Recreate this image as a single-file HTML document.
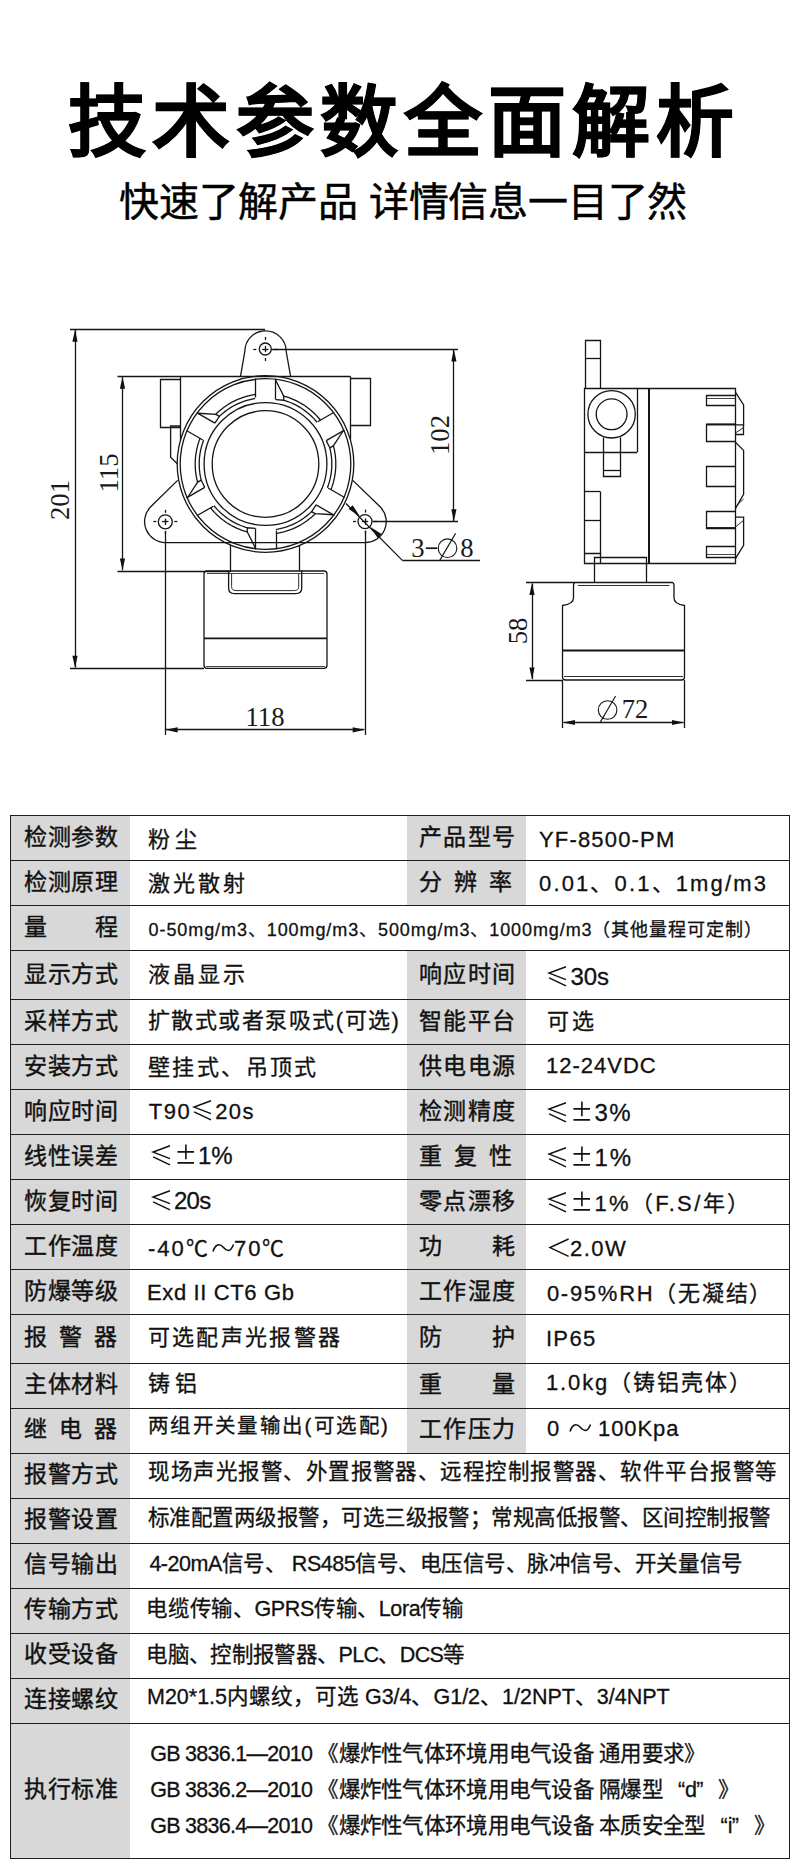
<!DOCTYPE html>
<html lang="zh-CN"><head><meta charset="utf-8"><style>
html,body{margin:0;padding:0;background:#fff;}
body{width:800px;height:1861px;position:relative;overflow:hidden;font-family:"Liberation Sans",sans-serif;color:#111;}
.a{position:absolute;white-space:nowrap;line-height:1;}
.t{font-size:78px;font-weight:700;-webkit-text-stroke:0.7px #000;color:#000;letter-spacing:6.0px;}
.s{font-size:40px;-webkit-text-stroke:0.45px #000;color:#000;letter-spacing:-0.2px;}
.g{position:absolute;background:#d8d8d8;}
.hl{position:absolute;height:1px;background:#1e1e1e;left:10px;width:780px;}
.vl{position:absolute;width:1px;background:#1e1e1e;}
.c{position:absolute;display:flex;align-items:center;white-space:nowrap;line-height:1;-webkit-text-stroke:0.3px #111;}
.lab{justify-content:space-between;-webkit-text-stroke:0.4px #111;}
.lab span{display:block}
.ql{display:inline-block;width:1.03em;text-align:right;letter-spacing:0}
.qr{display:inline-block;width:1.03em;text-align:left;letter-spacing:0}
.dn{position:absolute;font-family:"Liberation Serif",serif;font-size:27.5px;line-height:1;color:#1a1a1a;white-space:nowrap;}
</style></head><body>

<div class="a t" style="left:68px;top:84px">技术参数全面解析</div>
<div class="a s" style="left:119px;top:182px">快速了解产品 详情信息一目了然</div>
<svg width="800" height="760" viewBox="0 0 800 760" style="position:absolute;left:0;top:0" fill="none" stroke="#151515" stroke-width="1.3" stroke-linejoin="miter">
<path d="M240.5 376.3 L244.8 351.5 A20.6 20.6 0 0 1 286.2 351.5 L290.6 376.3"/>
<circle cx="265.3" cy="349" r="6"/>
<path d="M262.1 349.5 L268.5 349.5" stroke-width="1.3"/>
<path d="M265.5 345.8 L265.5 352.2" stroke-width="1.3"/>
<path d="M274.3 349.5 L277.3 349.5"/>
<path d="M256.3 349.5 L253.3 349.5"/>
<path d="M265.5 358 L265.5 361"/>
<path d="M265.5 340 L265.5 337"/>
<path d="M117.5 376.5 L350.2 376.5"/>
<path d="M180.5 376.3 L180.5 440.5"/>
<path d="M350.5 376.3 L350.5 439.5"/>
<path d="M180.5 379.5 L160.5 379.5 L160.5 427.5 L180.5 427.5"/>
<path d="M180.6 426 L170.6 426 L170.6 457.3 L177.3 463.8"/>
<path d="M350.5 378.5 L370.5 378.5 L370.5 425.5 L350.5 425.5"/>
<path d="M177.6 480.4 L150.2 507.3 A21 21 0 0 0 165.3 542.6 L365 542.6 A21 21 0 0 0 380.6 507.3 L352.8 480.4"/>
<circle cx="165.3" cy="521.8" r="7"/>
<path d="M162.1 521.5 L168.5 521.5" stroke-width="1.3"/>
<path d="M165.5 518.6 L165.5 525" stroke-width="1.3"/>
<path d="M174.3 521.5 L177.3 521.5"/>
<path d="M156.3 521.5 L153.3 521.5"/>
<path d="M165.5 530.8 L165.5 533.8"/>
<path d="M165.5 512.8 L165.5 509.8"/>
<circle cx="365" cy="521.6" r="7"/>
<path d="M361.8 521.5 L368.2 521.5" stroke-width="1.3"/>
<path d="M365.5 518.4 L365.5 524.8" stroke-width="1.3"/>
<path d="M374 521.5 L377 521.5"/>
<path d="M356 521.5 L353 521.5"/>
<path d="M365.5 530.6 L365.5 533.6"/>
<path d="M365.5 512.6 L365.5 509.6"/>
<circle cx="265.5" cy="464" r="88.3"/>
<circle cx="265.5" cy="464" r="85.3"/>
<circle cx="265.5" cy="464" r="61.4"/>
<circle cx="265.5" cy="464" r="53.3"/>
<path d="M255.5 378.5 L255.5 397.5"/>
<path d="M275.5 378.5 L275.5 399.5"/>
<path d="M275.6 380 L283.75 396.25 L283.75 400.25 L275.6 399.7"/>
<path d="M283.16 395.96 L285.35 396.56 L287.51 397.24 L289.65 397.98 L291.77 398.79 L293.86 399.67 L295.92 400.62 L297.95 401.64 L299.94 402.71 L301.9 403.86 L303.82 405.06 L305.7 406.33 L307.54 407.65 L309.33 409.04 L311.08 410.48 L312.78 411.98 L314.44 413.53 L316.04 415.13 L317.59 416.79 L319.08 418.49 L320.52 420.24"/>
<path d="M283.1 400.08 L285.07 400.66 L287.03 401.29 L288.97 401.99 L290.89 402.75 L292.78 403.57 L294.64 404.45 L296.48 405.38 L298.28 406.37 L300.06 407.42 L301.8 408.52 L303.51 409.67 L305.18 410.88 L306.81 412.14 L308.4 413.45 L309.95 414.81 L311.45 416.21 L312.92 417.66 L314.33 419.16 L315.7 420.7 L317.03 422.28"/>
<path d="M334.12 412.26 L317.67 421.76"/>
<path d="M344.42 430.1 L326.24 440.6"/>
<path d="M343.3 430.75 L333.3 445.93 L329.83 447.93 L326.24 440.6"/>
<path d="M333.26 445.28 L333.83 447.47 L334.33 449.68 L334.75 451.91 L335.11 454.15 L335.39 456.4 L335.6 458.65 L335.73 460.92 L335.8 463.18 L335.79 465.45 L335.7 467.71 L335.55 469.98 L335.32 472.23 L335.01 474.48 L334.64 476.71 L334.19 478.94 L333.68 481.14 L333.09 483.33 L332.43 485.5 L331.7 487.65 L330.91 489.77"/>
<path d="M329.66 447.28 L330.14 449.28 L330.57 451.29 L330.93 453.32 L331.23 455.36 L331.47 457.41 L331.64 459.46 L331.75 461.52 L331.8 463.58 L331.78 465.64 L331.7 467.7 L331.55 469.75 L331.34 471.8 L331.07 473.84 L330.73 475.87 L330.33 477.9 L329.86 479.9 L329.34 481.9 L328.75 483.87 L328.1 485.83 L327.4 487.76"/>
<path d="M344.62 497.56 L328.17 488.06"/>
<path d="M334.32 515.4 L316.14 504.9"/>
<path d="M333.2 514.75 L315.05 513.68 L311.58 511.68 L316.14 504.9"/>
<path d="M315.6 513.32 L313.98 514.91 L312.31 516.45 L310.6 517.93 L308.84 519.35 L307.03 520.72 L305.18 522.03 L303.29 523.28 L301.36 524.47 L299.39 525.59 L297.38 526.65 L295.35 527.65 L293.28 528.58 L291.18 529.44 L289.06 530.23 L286.91 530.96 L284.74 531.62 L282.55 532.2 L280.34 532.71 L278.12 533.16 L275.88 533.53"/>
<path d="M312.06 511.2 L310.57 512.62 L309.04 514 L307.46 515.33 L305.85 516.61 L304.2 517.84 L302.5 519.01 L300.78 520.14 L299.02 521.2 L297.22 522.22 L295.4 523.18 L293.54 524.08 L291.66 524.92 L289.76 525.7 L287.83 526.43 L285.88 527.09 L283.91 527.69 L281.92 528.23 L279.92 528.71 L277.9 529.13 L275.87 529.48"/>
<path d="M276.5 549.5 L276.5 530.5"/>
<path d="M255.5 549.5 L255.5 528.5"/>
<path d="M255.4 548 L247.25 531.75 L247.25 527.75 L255.4 528.3"/>
<path d="M247.84 532.04 L245.65 531.44 L243.49 530.76 L241.35 530.02 L239.23 529.21 L237.14 528.33 L235.08 527.38 L233.05 526.36 L231.06 525.29 L229.1 524.14 L227.18 522.94 L225.3 521.67 L223.46 520.35 L221.67 518.96 L219.92 517.52 L218.22 516.02 L216.56 514.47 L214.96 512.87 L213.41 511.21 L211.92 509.51 L210.48 507.76"/>
<path d="M247.9 527.92 L245.93 527.34 L243.97 526.71 L242.03 526.01 L240.11 525.25 L238.22 524.43 L236.36 523.55 L234.52 522.62 L232.72 521.63 L230.94 520.58 L229.2 519.48 L227.49 518.33 L225.82 517.12 L224.19 515.86 L222.6 514.55 L221.05 513.19 L219.55 511.79 L218.08 510.34 L216.67 508.84 L215.3 507.3 L213.97 505.72"/>
<path d="M196.88 515.74 L213.33 506.24"/>
<path d="M186.58 497.9 L204.76 487.4"/>
<path d="M187.7 497.25 L197.7 482.07 L201.17 480.07 L204.76 487.4"/>
<path d="M197.74 482.72 L197.17 480.53 L196.67 478.32 L196.25 476.09 L195.89 473.85 L195.61 471.6 L195.4 469.35 L195.27 467.08 L195.2 464.82 L195.21 462.55 L195.3 460.29 L195.45 458.02 L195.68 455.77 L195.99 453.52 L196.36 451.29 L196.81 449.06 L197.32 446.86 L197.91 444.67 L198.57 442.5 L199.3 440.35 L200.09 438.23"/>
<path d="M201.34 480.72 L200.86 478.72 L200.43 476.71 L200.07 474.68 L199.77 472.64 L199.53 470.59 L199.36 468.54 L199.25 466.48 L199.2 464.42 L199.22 462.36 L199.3 460.3 L199.45 458.25 L199.66 456.2 L199.93 454.16 L200.27 452.13 L200.67 450.1 L201.14 448.1 L201.66 446.1 L202.25 444.13 L202.9 442.17 L203.6 440.24"/>
<path d="M186.38 430.44 L202.83 439.94"/>
<path d="M196.68 412.6 L214.86 423.1"/>
<path d="M197.8 413.25 L215.95 414.32 L219.42 416.32 L214.86 423.1"/>
<path d="M215.4 414.68 L217.02 413.09 L218.69 411.55 L220.4 410.07 L222.16 408.65 L223.97 407.28 L225.82 405.97 L227.71 404.72 L229.64 403.53 L231.61 402.41 L233.62 401.35 L235.65 400.35 L237.72 399.42 L239.82 398.56 L241.94 397.77 L244.09 397.04 L246.26 396.38 L248.45 395.8 L250.66 395.29 L252.88 394.84 L255.12 394.47"/>
<path d="M218.94 416.8 L220.43 415.38 L221.96 414 L223.54 412.67 L225.15 411.39 L226.8 410.16 L228.5 408.99 L230.22 407.86 L231.98 406.8 L233.78 405.78 L235.6 404.82 L237.46 403.92 L239.34 403.08 L241.24 402.3 L243.17 401.57 L245.12 400.91 L247.09 400.31 L249.08 399.77 L251.08 399.29 L253.1 398.87 L255.13 398.52"/>
<path d="M230.5 545 L230.5 571"/>
<path d="M299.5 545 L299.5 571"/>
<path d="M207 571 L324 571 Q327 571 327 574 L327 665.3 Q327 668.3 324 668.3 L207 668.3 Q204 668.3 204 665.3 L204 574 Q204 571 207 571 Z"/>
<path d="M204 638.3 L327 638.3" stroke-width="1.7"/>
<path d="M206 666.5 L325 666.5" stroke-width="0.8"/>
<path d="M228.6 571 L228.6 588 Q228.6 593.6 234.5 593.6 L295.8 593.6 Q301.7 593.6 301.7 588 L301.7 571"/>
<path d="M231.6 573.5 L231.6 586.5 Q231.6 590.6 236 590.6 L294.3 590.6 Q298.7 590.6 298.7 586.5 L298.7 573.5" stroke-width="0.9"/>
<path d="M207 573.5 L324 573.5" stroke-width="0.8"/>
<path d="M70 329.5 L265 329.5"/>
<path d="M70 668.5 L204 668.5"/>
<path d="M75.5 330 L75.5 667.6"/>
<path d="M75 329.8 L77.6 341.8 L72.4 341.8 Z" fill="#111" stroke="none"/>
<path d="M75 667.8 L72.4 655.8 L77.6 655.8 Z" fill="#111" stroke="none"/>
<path d="M117.5 571.5 L230.8 571.5"/>
<path d="M122.5 377 L122.5 570.3"/>
<path d="M122.5 376.8 L125.1 388.8 L119.9 388.8 Z" fill="#111" stroke="none"/>
<path d="M122.5 570.5 L119.9 558.5 L125.1 558.5 Z" fill="#111" stroke="none"/>
<path d="M271.5 349.5 L458 349.5"/>
<path d="M372.5 521.5 L458 521.5"/>
<path d="M453.5 350 L453.5 521"/>
<path d="M453.9 349.5 L456.5 361.5 L451.3 361.5 Z" fill="#111" stroke="none"/>
<path d="M453.9 521.2 L451.3 509.2 L456.5 509.2 Z" fill="#111" stroke="none"/>
<path d="M165.5 531 L165.5 735"/>
<path d="M365.5 531 L365.5 735"/>
<path d="M166 729.5 L364.3 729.5"/>
<path d="M165.6 729.8 L177.6 727.2 L177.6 732.4 Z" fill="#111" stroke="none"/>
<path d="M364.7 729.8 L352.7 732.4 L352.7 727.2 Z" fill="#111" stroke="none"/>
<path d="M346 503.5 L402.3 560.4"/>
<path d="M402.3 560.5 L480 560.5"/>
<path d="M359.8 516.3 L348.63 509.09 L352.59 505.13 Z" fill="#111" stroke="none"/>
<path d="M370.4 526.9 L381.57 534.11 L377.61 538.07 Z" fill="#111" stroke="none"/>
<path d="M585.5 388.5 L585.5 340.5 L600.5 340.5 L600.5 388.5"/>
<path d="M585.9 358.5 L600.2 358.5"/>
<path d="M584.5 388.5 L735.5 388.5 L735.5 563.5 L584.5 563.5 Z"/>
<path d="M637.5 388.2 L637.5 452.3"/>
<path d="M584.7 452.5 L637 452.5"/>
<path d="M649 388.2 L649 563.5" stroke-width="2.0"/>
<circle cx="611.6" cy="414.3" r="23.7"/>
<circle cx="611.6" cy="414.3" r="15.4"/>
<path d="M603.5 437.5 L603.5 476.5 L620.5 476.5 L620.5 437.5"/>
<path d="M603.3 470.5 L620.4 470.5"/>
<path d="M600.5 491.5 L600.5 553.5 L584.5 553.5"/>
<path d="M584.7 491.5 L600.2 491.5"/>
<path d="M584.7 520.5 L600.2 520.5"/>
<path d="M600.5 553.3 L600.5 563.5"/>
<path d="M735.5 395.5 L706.5 395.5 L706.5 405.5 L735.5 405.5"/>
<path d="M735.5 424.5 L706.5 424.5 L706.5 441.5 L735.5 441.5"/>
<path d="M735.5 466.5 L706.5 466.5 L706.5 486.5 L735.5 486.5"/>
<path d="M735.5 511.5 L706.5 511.5 L706.5 528.5 L735.5 528.5"/>
<path d="M735.5 546.5 L706.5 546.5 L706.5 557.5 L735.5 557.5"/>
<path d="M706.5 398.5 L735.4 398.5" stroke-width="0.8"/>
<path d="M706.5 554.5 L735.4 554.5" stroke-width="0.8"/>
<path d="M706.5 424.4 L735.4 424.4" stroke-width="1.8"/>
<path d="M706.5 528 L735.4 528" stroke-width="1.8"/>
<path d="M735.4 392.2 L743.6 405 L743.6 424.9 L735.4 424.9"/>
<path d="M743.5 424.5 L743.5 434.5 L735.5 434.5"/>
<path d="M735.4 433 L743.6 427.5" stroke-width="0.9"/>
<path d="M735.4 442.2 L743.6 450.4 L743.6 494.3 L735.4 508.6"/>
<path d="M737 505 L743.6 499" stroke-width="0.9"/>
<path d="M735.4 517.2 L743.6 517.2 L743.6 545.3 L735.4 558.6"/>
<path d="M735.4 527 L743.6 520.3" stroke-width="0.9"/>
<path d="M594.5 563.5 L594.5 557.5 L646.5 557.5 L646.5 563.5"/>
<path d="M594.5 563.5 L594.5 582.5"/>
<path d="M646.5 563.5 L646.5 582.5"/>
<path d="M575 582.5 L672.5 582.5 Q674 583 674 586 L674 598 Q674 604 684.5 605.5 L684.5 677 Q684.5 680 681.5 680 L565.5 680 Q562.5 680 562.5 677 L562.5 605.5 Q573.5 604 573.5 598 L573.5 586 Q573.5 583 575 582.5 Z"/>
<path d="M578 585.5 L669.5 585.5" stroke-width="0.9"/>
<path d="M562.5 650.5 L684.5 650.5" stroke-width="1.8"/>
<path d="M564 676.5 L683 676.5" stroke-width="0.9"/>
<path d="M526 582.5 L575 582.5"/>
<path d="M526 680.5 L562.5 680.5"/>
<path d="M532.5 583.5 L532.5 679"/>
<path d="M532 583 L534.6 595 L529.4 595 Z" fill="#111" stroke="none"/>
<path d="M532 679.5 L529.4 667.5 L534.6 667.5 Z" fill="#111" stroke="none"/>
<path d="M562.5 680 L562.5 728"/>
<path d="M684.5 680 L684.5 728"/>
<path d="M563.5 722.5 L683.5 722.5"/>
<path d="M563 722.5 L575 719.9 L575 725.1 Z" fill="#111" stroke="none"/>
<path d="M684 722.5 L672 725.1 L672 719.9 Z" fill="#111" stroke="none"/>
<circle cx="447.5" cy="548.2" r="9.3" stroke-width="1.1"/>
<path d="M439.6 560.6 L455.6 533.4" stroke-width="1.1"/>
<path d="M425.8 548.2 L437.2 548.2" stroke-width="1.7"/>
<circle cx="607.6" cy="710" r="9.3" stroke-width="1.1"/>
<path d="M600 722.6 L615.6 696" stroke-width="1.1"/>
</svg><div class="dn" style="left:265.2px;top:716.7px;transform:translate(-50%,-50%)  scaleX(0.97)">118</div>
<div class="dn" style="left:60.3px;top:500.0px;transform:translate(-50%,-50%) rotate(-90deg) scaleX(0.97)">201</div>
<div class="dn" style="left:109.4px;top:472.5px;transform:translate(-50%,-50%) rotate(-90deg) scaleX(0.97)">115</div>
<div class="dn" style="left:440.1px;top:434.8px;transform:translate(-50%,-50%) rotate(-90deg) scaleX(0.97)">102</div>
<div class="dn" style="left:517.8px;top:631.4px;transform:translate(-50%,-50%) rotate(-90deg) scaleX(0.97)">58</div>
<div class="dn" style="left:417.7px;top:548.3px;transform:translate(-50%,-50%)  scaleX(0.97)">3</div>
<div class="dn" style="left:467.0px;top:548.3px;transform:translate(-50%,-50%)  scaleX(0.97)">8</div>
<div class="dn" style="left:635.2px;top:709.0px;transform:translate(-50%,-50%)  scaleX(0.97)">72</div>
<div class="g" style="left:10px;top:815px;width:120px;height:45px"></div>
<div class="g" style="left:407px;top:815px;width:119px;height:45px"></div>
<div class="g" style="left:10px;top:860px;width:120px;height:45px"></div>
<div class="g" style="left:407px;top:860px;width:119px;height:45px"></div>
<div class="g" style="left:10px;top:905px;width:120px;height:45px"></div>
<div class="g" style="left:10px;top:950px;width:120px;height:49px"></div>
<div class="g" style="left:407px;top:950px;width:119px;height:49px"></div>
<div class="g" style="left:10px;top:999px;width:120px;height:45px"></div>
<div class="g" style="left:407px;top:999px;width:119px;height:45px"></div>
<div class="g" style="left:10px;top:1044px;width:120px;height:45px"></div>
<div class="g" style="left:407px;top:1044px;width:119px;height:45px"></div>
<div class="g" style="left:10px;top:1089px;width:120px;height:45px"></div>
<div class="g" style="left:407px;top:1089px;width:119px;height:45px"></div>
<div class="g" style="left:10px;top:1134px;width:120px;height:45px"></div>
<div class="g" style="left:407px;top:1134px;width:119px;height:45px"></div>
<div class="g" style="left:10px;top:1179px;width:120px;height:45px"></div>
<div class="g" style="left:407px;top:1179px;width:119px;height:45px"></div>
<div class="g" style="left:10px;top:1224px;width:120px;height:45px"></div>
<div class="g" style="left:407px;top:1224px;width:119px;height:45px"></div>
<div class="g" style="left:10px;top:1269px;width:120px;height:45px"></div>
<div class="g" style="left:407px;top:1269px;width:119px;height:45px"></div>
<div class="g" style="left:10px;top:1314px;width:120px;height:49px"></div>
<div class="g" style="left:407px;top:1314px;width:119px;height:49px"></div>
<div class="g" style="left:10px;top:1363px;width:120px;height:45px"></div>
<div class="g" style="left:407px;top:1363px;width:119px;height:45px"></div>
<div class="g" style="left:10px;top:1408px;width:120px;height:45px"></div>
<div class="g" style="left:407px;top:1408px;width:119px;height:45px"></div>
<div class="g" style="left:10px;top:1453px;width:120px;height:45px"></div>
<div class="g" style="left:10px;top:1498px;width:120px;height:45px"></div>
<div class="g" style="left:10px;top:1543px;width:120px;height:45px"></div>
<div class="g" style="left:10px;top:1588px;width:120px;height:45px"></div>
<div class="g" style="left:10px;top:1633px;width:120px;height:45px"></div>
<div class="g" style="left:10px;top:1678px;width:120px;height:45px"></div>
<div class="g" style="left:10px;top:1723px;width:120px;height:135px"></div>
<div class="hl" style="top:815px"></div>
<div class="hl" style="top:860px"></div>
<div class="hl" style="top:905px"></div>
<div class="hl" style="top:950px"></div>
<div class="hl" style="top:999px"></div>
<div class="hl" style="top:1044px"></div>
<div class="hl" style="top:1089px"></div>
<div class="hl" style="top:1134px"></div>
<div class="hl" style="top:1179px"></div>
<div class="hl" style="top:1224px"></div>
<div class="hl" style="top:1269px"></div>
<div class="hl" style="top:1314px"></div>
<div class="hl" style="top:1363px"></div>
<div class="hl" style="top:1408px"></div>
<div class="hl" style="top:1453px"></div>
<div class="hl" style="top:1498px"></div>
<div class="hl" style="top:1543px"></div>
<div class="hl" style="top:1588px"></div>
<div class="hl" style="top:1633px"></div>
<div class="hl" style="top:1678px"></div>
<div class="hl" style="top:1723px"></div>
<div class="hl" style="top:1858px"></div>
<div class="vl" style="left:10px;top:815px;height:1044px"></div>
<div class="vl" style="left:789px;top:815px;height:1044px"></div>
<div class="c lab" style="left:10px;top:815px;width:120px;height:45px;font-size:23px;padding:0 12px 0 14px;box-sizing:border-box;"><span>检</span><span>测</span><span>参</span><span>数</span></div>
<div class="c" style="left:147.75px;top:817.75px;height:45px;font-size:22px;letter-spacing:4.85px"><span>粉尘</span></div>
<div class="c lab" style="left:407px;top:815px;width:119px;height:45px;font-size:23px;padding:0 11px 0 12px;box-sizing:border-box;"><span>产</span><span>品</span><span>型</span><span>号</span></div>
<div class="c" style="left:539.0px;top:817.3px;height:45px;font-size:22px;letter-spacing:1.167px"><span>YF-8500-PM</span></div>
<div class="c lab" style="left:10px;top:860px;width:120px;height:45px;font-size:23px;padding:0 12px 0 14px;box-sizing:border-box;"><span>检</span><span>测</span><span>原</span><span>理</span></div>
<div class="c" style="left:147.75px;top:861.5px;height:45px;font-size:22px;letter-spacing:3.161px"><span>激光散射</span></div>
<div class="c lab" style="left:407px;top:860px;width:119px;height:45px;font-size:23px;padding:0 14.5px 0 12px;box-sizing:border-box;"><span>分</span><span>辨</span><span>率</span></div>
<div class="c" style="left:539.0px;top:861.6px;height:45px;font-size:22px;letter-spacing:2.143px"><span>0.01、0.1、1mg/m3</span></div>
<div class="c lab" style="left:10px;top:905px;width:120px;height:45px;font-size:23px;padding:0 12px 0 14px;box-sizing:border-box;"><span>量</span><span>程</span></div>
<div class="c" style="left:148.6px;top:907.0px;height:45px;font-size:18px;letter-spacing:0.911px"><span>0-50mg/m3、100mg/m3、500mg/m3、1000mg/m3（其他量程可定制）</span></div>
<div class="c lab" style="left:10px;top:950px;width:120px;height:49px;font-size:23px;padding:0 12px 0 14px;box-sizing:border-box;"><span>显</span><span>示</span><span>方</span><span>式</span></div>
<div class="c" style="left:147.75px;top:950.35px;height:49px;font-size:22px;letter-spacing:3.161px"><span>液晶显示</span></div>
<div class="c lab" style="left:407px;top:950px;width:119px;height:49px;font-size:23px;padding:0 11px 0 12px;box-sizing:border-box;"><span>响</span><span>应</span><span>时</span><span>间</span></div>
<div class="c" style="left:546.4px;top:952.74px;height:49px;font-size:24px;letter-spacing:0.0px"><span><svg class="sp" width="24.00" height="18.00" viewBox="0 6 24 18" style="overflow:visible;vertical-align:baseline" fill="none" stroke="#111" stroke-width="1.50"><path d="M20 5.75 L3.1 12.1 L20 18.65 M3.1 16.85 L20 24.9"/></svg>30s</span></div>
<div class="c lab" style="left:10px;top:999px;width:120px;height:45px;font-size:23px;padding:0 12px 0 14px;box-sizing:border-box;"><span>采</span><span>样</span><span>方</span><span>式</span></div>
<div class="c" style="left:147.75px;top:998.5px;height:45px;font-size:22px;letter-spacing:1.498px"><span>扩散式或者泵吸式(可选)</span></div>
<div class="c lab" style="left:407px;top:999px;width:119px;height:45px;font-size:23px;padding:0 11px 0 12px;box-sizing:border-box;"><span>智</span><span>能</span><span>平</span><span>台</span></div>
<div class="c" style="left:546.9px;top:999.5px;height:45px;font-size:22px;letter-spacing:3.3px"><span>可选</span></div>
<div class="c lab" style="left:10px;top:1044px;width:120px;height:45px;font-size:23px;padding:0 12px 0 14px;box-sizing:border-box;"><span>安</span><span>装</span><span>方</span><span>式</span></div>
<div class="c" style="left:147.75px;top:1045.75px;height:45px;font-size:22px;letter-spacing:2.458px"><span>壁挂式、吊顶式</span></div>
<div class="c lab" style="left:407px;top:1044px;width:119px;height:45px;font-size:23px;padding:0 11px 0 12px;box-sizing:border-box;"><span>供</span><span>电</span><span>电</span><span>源</span></div>
<div class="c" style="left:545.9px;top:1043.5px;height:45px;font-size:22px;letter-spacing:1.017px"><span>12-24VDC</span></div>
<div class="c lab" style="left:10px;top:1089px;width:120px;height:45px;font-size:23px;padding:0 12px 0 14px;box-sizing:border-box;"><span>响</span><span>应</span><span>时</span><span>间</span></div>
<div class="c" style="left:148.75px;top:1089.5px;height:45px;font-size:22px;letter-spacing:1.485px"><span>T90<svg class="sp" width="24.00" height="18.00" viewBox="0 6 24 18" style="overflow:visible;vertical-align:baseline" fill="none" stroke="#111" stroke-width="1.50"><path d="M20 5.75 L3.1 12.1 L20 18.65 M3.1 16.85 L20 24.9"/></svg>20s</span></div>
<div class="c lab" style="left:407px;top:1089px;width:119px;height:45px;font-size:23px;padding:0 11px 0 12px;box-sizing:border-box;"><span>检</span><span>测</span><span>精</span><span>度</span></div>
<div class="c" style="left:546.4px;top:1090.6px;height:45px;font-size:24px;letter-spacing:1.5px"><span><svg class="sp" width="24.00" height="18.00" viewBox="0 6 24 18" style="overflow:visible;vertical-align:baseline" fill="none" stroke="#111" stroke-width="1.50"><path d="M20 5.75 L3.1 12.1 L20 18.65 M3.1 16.85 L20 24.9"/></svg><svg class="sp" width="24.00" height="18.00" viewBox="0 6 24 18" style="overflow:visible;vertical-align:baseline" fill="none" stroke="#111" stroke-width="1.60"><path d="M3.5 11.9 H20 M11.9 4.6 V19.25 M3.5 22.85 H20"/></svg>3%</span></div>
<div class="c lab" style="left:10px;top:1134px;width:120px;height:45px;font-size:23px;padding:0 12px 0 14px;box-sizing:border-box;"><span>线</span><span>性</span><span>误</span><span>差</span></div>
<div class="c" style="left:150.0px;top:1133.1px;height:45px;font-size:24px;letter-spacing:0.0px"><span><svg class="sp" width="24.00" height="18.00" viewBox="0 6 24 18" style="overflow:visible;vertical-align:baseline" fill="none" stroke="#111" stroke-width="1.50"><path d="M20 5.75 L3.1 12.1 L20 18.65 M3.1 16.85 L20 24.9"/></svg><svg class="sp" width="24.00" height="18.00" viewBox="0 6 24 18" style="overflow:visible;vertical-align:baseline" fill="none" stroke="#111" stroke-width="1.60"><path d="M3.5 11.9 H20 M11.9 4.6 V19.25 M3.5 22.85 H20"/></svg>1%</span></div>
<div class="c lab" style="left:407px;top:1134px;width:119px;height:45px;font-size:23px;padding:0 14.5px 0 12px;box-sizing:border-box;"><span>重</span><span>复</span><span>性</span></div>
<div class="c" style="left:546.4px;top:1135.04px;height:45px;font-size:24px;letter-spacing:2.0px"><span><svg class="sp" width="24.00" height="18.00" viewBox="0 6 24 18" style="overflow:visible;vertical-align:baseline" fill="none" stroke="#111" stroke-width="1.50"><path d="M20 5.75 L3.1 12.1 L20 18.65 M3.1 16.85 L20 24.9"/></svg><svg class="sp" width="24.00" height="18.00" viewBox="0 6 24 18" style="overflow:visible;vertical-align:baseline" fill="none" stroke="#111" stroke-width="1.60"><path d="M3.5 11.9 H20 M11.9 4.6 V19.25 M3.5 22.85 H20"/></svg>1%</span></div>
<div class="c lab" style="left:10px;top:1179px;width:120px;height:45px;font-size:23px;padding:0 12px 0 14px;box-sizing:border-box;"><span>恢</span><span>复</span><span>时</span><span>间</span></div>
<div class="c" style="left:150.0px;top:1178.75px;height:45px;font-size:24px;letter-spacing:-0.75px"><span><svg class="sp" width="24.00" height="18.00" viewBox="0 6 24 18" style="overflow:visible;vertical-align:baseline" fill="none" stroke="#111" stroke-width="1.50"><path d="M20 5.75 L3.1 12.1 L20 18.65 M3.1 16.85 L20 24.9"/></svg>20s</span></div>
<div class="c lab" style="left:407px;top:1179px;width:119px;height:45px;font-size:23px;padding:0 11px 0 12px;box-sizing:border-box;"><span>零</span><span>点</span><span>漂</span><span>移</span></div>
<div class="c" style="left:546.4px;top:1181.4px;height:45px;font-size:22px;letter-spacing:2.36px"><span><svg class="sp" width="24.00" height="18.00" viewBox="0 6 24 18" style="overflow:visible;vertical-align:baseline" fill="none" stroke="#111" stroke-width="1.50"><path d="M20 5.75 L3.1 12.1 L20 18.65 M3.1 16.85 L20 24.9"/></svg><svg class="sp" width="24.00" height="18.00" viewBox="0 6 24 18" style="overflow:visible;vertical-align:baseline" fill="none" stroke="#111" stroke-width="1.60"><path d="M3.5 11.9 H20 M11.9 4.6 V19.25 M3.5 22.85 H20"/></svg>1%（F.S/年）</span></div>
<div class="c lab" style="left:10px;top:1224px;width:120px;height:45px;font-size:23px;padding:0 12px 0 14px;box-sizing:border-box;"><span>工</span><span>作</span><span>温</span><span>度</span></div>
<div class="c" style="left:148.0px;top:1226.5px;height:45px;font-size:22px;letter-spacing:2.025px"><span>-40℃<svg class="sp" width="24.00" height="18.00" viewBox="0 6 24 18" style="overflow:visible;vertical-align:baseline" fill="none" stroke="#111" stroke-width="1.60"><path d="M3 19.5 C5.5 12, 9.5 11, 13.5 15.5 S20.5 20, 23.5 12.5"/></svg>70℃</span></div>
<div class="c lab" style="left:407px;top:1224px;width:119px;height:45px;font-size:23px;padding:0 11px 0 12px;box-sizing:border-box;"><span>功</span><span>耗</span></div>
<div class="c" style="left:548.0px;top:1226.6px;height:45px;font-size:22px;letter-spacing:1.5px"><span><svg class="sp" width="22.00" height="18.00" viewBox="0 6 22 18" style="overflow:visible;vertical-align:baseline" fill="none" stroke="#111" stroke-width="1.50"><path d="M20.6 7 L2 15.6 L20.6 24.4"/></svg>2.0W</span></div>
<div class="c lab" style="left:10px;top:1269px;width:120px;height:45px;font-size:23px;padding:0 12px 0 14px;box-sizing:border-box;"><span>防</span><span>爆</span><span>等</span><span>级</span></div>
<div class="c" style="left:147.0px;top:1270.5px;height:45px;font-size:22px;letter-spacing:0.628px"><span>Exd II CT6 Gb</span></div>
<div class="c lab" style="left:407px;top:1269px;width:119px;height:45px;font-size:23px;padding:0 11px 0 12px;box-sizing:border-box;"><span>工</span><span>作</span><span>湿</span><span>度</span></div>
<div class="c" style="left:546.9px;top:1271.0px;height:45px;font-size:22px;letter-spacing:1.729px"><span>0-95%RH（无凝结）</span></div>
<div class="c lab" style="left:10px;top:1312.5px;width:120px;height:49px;font-size:23px;padding:0 13.5px 0 14px;box-sizing:border-box;"><span>报</span><span>警</span><span>器</span></div>
<div class="c" style="left:147.75px;top:1313.0px;height:49px;font-size:22px;letter-spacing:2.332px"><span>可选配声光报警器</span></div>
<div class="c lab" style="left:407px;top:1312.5px;width:119px;height:49px;font-size:23px;padding:0 11px 0 12px;box-sizing:border-box;"><span>防</span><span>护</span></div>
<div class="c" style="left:545.9px;top:1314.55px;height:49px;font-size:22px;letter-spacing:1.369px"><span>IP65</span></div>
<div class="c lab" style="left:10px;top:1361.5px;width:120px;height:45px;font-size:23px;padding:0 12px 0 14px;box-sizing:border-box;"><span>主</span><span>体</span><span>材</span><span>料</span></div>
<div class="c" style="left:147.75px;top:1361.5px;height:45px;font-size:22px;letter-spacing:5.25px"><span>铸铝</span></div>
<div class="c lab" style="left:407px;top:1361.5px;width:119px;height:45px;font-size:23px;padding:0 11px 0 12px;box-sizing:border-box;"><span>重</span><span>量</span></div>
<div class="c" style="left:545.9px;top:1360.5px;height:45px;font-size:22px;letter-spacing:1.91px"><span>1.0kg（铸铝壳体）</span></div>
<div class="c lab" style="left:10px;top:1406.5px;width:120px;height:45px;font-size:23px;padding:0 13.5px 0 14px;box-sizing:border-box;"><span>继</span><span>电</span><span>器</span></div>
<div class="c" style="left:147.75px;top:1403.5px;height:45px;font-size:20.5px;letter-spacing:2.403px"><span>两组开关量输出(可选配)</span></div>
<div class="c lab" style="left:407px;top:1406.5px;width:119px;height:45px;font-size:23px;padding:0 11px 0 12px;box-sizing:border-box;"><span>工</span><span>作</span><span>压</span><span>力</span></div>
<div class="c" style="left:546.9px;top:1406.1px;height:45px;font-size:22px;letter-spacing:0.909px"><span>0 <svg class="sp" width="24.00" height="18.00" viewBox="0 6 24 18" style="overflow:visible;vertical-align:baseline" fill="none" stroke="#111" stroke-width="1.60"><path d="M3 19.5 C5.5 12, 9.5 11, 13.5 15.5 S20.5 20, 23.5 12.5"/></svg> 100Kpa</span></div>
<div class="c lab" style="left:10px;top:1451.5px;width:120px;height:45px;font-size:23px;padding:0 12px 0 14px;box-sizing:border-box;"><span>报</span><span>警</span><span>方</span><span>式</span></div>
<div class="c" style="left:148.2px;top:1450.0px;height:45px;font-size:21.5px;letter-spacing:0.481px"><span>现场声光报警、外置报警器、远程控制报警器、软件平台报警等</span></div>
<div class="c lab" style="left:10px;top:1496.5px;width:120px;height:45px;font-size:23px;padding:0 12px 0 14px;box-sizing:border-box;"><span>报</span><span>警</span><span>设</span><span>置</span></div>
<div class="c" style="left:148.0px;top:1496.0px;height:45px;font-size:21.5px;letter-spacing:-0.536px"><span>标准配置两级报警，可选三级报警；常规高低报警、区间控制报警</span></div>
<div class="c lab" style="left:10px;top:1541.5px;width:120px;height:45px;font-size:23px;padding:0 12px 0 14px;box-sizing:border-box;"><span>信</span><span>号</span><span>输</span><span>出</span></div>
<div class="c" style="left:149.4px;top:1542.5px;height:45px;font-size:21.5px;letter-spacing:-0.479px"><span>4-20mA信号、 RS485信号、电压信号、脉冲信号、开关量信号</span></div>
<div class="c lab" style="left:10px;top:1586.5px;width:120px;height:45px;font-size:23px;padding:0 12px 0 14px;box-sizing:border-box;"><span>传</span><span>输</span><span>方</span><span>式</span></div>
<div class="c" style="left:146.4px;top:1587.25px;height:45px;font-size:21.5px;letter-spacing:-0.378px"><span>电缆传输、GPRS传输、Lora传输</span></div>
<div class="c lab" style="left:10px;top:1631.5px;width:120px;height:45px;font-size:23px;padding:0 12px 0 14px;box-sizing:border-box;"><span>收</span><span>受</span><span>设</span><span>备</span></div>
<div class="c" style="left:146.4px;top:1633.25px;height:45px;font-size:21.5px;letter-spacing:-0.649px"><span>电脑、控制报警器、PLC、DCS等</span></div>
<div class="c lab" style="left:10px;top:1676.5px;width:120px;height:45px;font-size:23px;padding:0 12px 0 14px;box-sizing:border-box;"><span>连</span><span>接</span><span>螺</span><span>纹</span></div>
<div class="c" style="left:147.0px;top:1675.0px;height:45px;font-size:21.5px;letter-spacing:-0.01px"><span>M20*1.5内螺纹，可选 G3/4、G1/2、1/2NPT、3/4NPT</span></div>
<div class="c lab" style="left:10px;top:1722.3px;width:120px;height:135px;font-size:23px;padding:0 12px 0 14px;box-sizing:border-box;"><span>执</span><span>行</span><span>标</span><span>准</span></div>
<div class="c" style="left:150.2px;top:1737px;height:35px;font-size:21.5px;letter-spacing:-0.729px"><span>GB 3836.1—2010 《爆炸性气体环境用电气设备 通用要求》</span></div>
<div class="c" style="left:150.2px;top:1773px;height:35px;font-size:21.5px;letter-spacing:-0.729px"><span>GB 3836.2—2010 《爆炸性气体环境用电气设备 隔爆型<span class="ql">“</span>d<span class="qr">”</span>》</span></div>
<div class="c" style="left:150.2px;top:1809px;height:35px;font-size:21.5px;letter-spacing:-0.729px"><span>GB 3836.4—2010 《爆炸性气体环境用电气设备 本质安全型<span class="ql">“</span>i<span class="qr">”</span>》</span></div>
</body></html>
